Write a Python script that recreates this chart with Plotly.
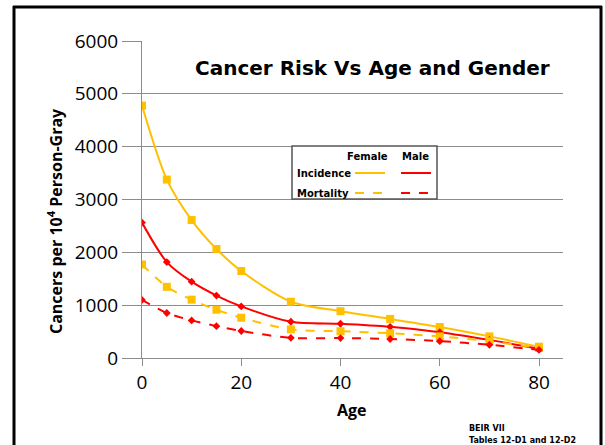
import plotly.graph_objects as go

ages = [0, 5, 10, 15, 20, 30, 40, 50, 60, 70, 80]
female_incidence = [4777, 3377, 2611, 2064, 1646, 1065, 886, 740, 586, 409, 214]
male_incidence = [2563, 1816, 1445, 1182, 977, 686, 648, 591, 489, 343, 174]
female_mortality = [1770, 1347, 1104, 914, 762, 542, 507, 469, 409, 317, 190]
male_mortality = [1099, 852, 712, 603, 511, 381, 377, 360, 319, 250, 153]

y_ticks = [0, 1000, 2000, 3000, 4000, 5000, 6000]
x_ticks = [0, 20, 40, 60, 80]

GOLD = "#FFC000"
RED = "#FF0000"
TXT = "DejaVu Sans"
NUM = "Open Sans"

# plot area in pixels
L, R, T, B = 142, 563, 41, 358
W, H = 605, 445


def px(p):
    return (p - L) / (R - L)


def py(p):
    return (B - p) / (B - T)


fig = go.Figure()

series = [
    (female_incidence, GOLD, "solid", "square", 8),
    (male_incidence, RED, "solid", "diamond", 6),
    (female_mortality, GOLD, "dash", "square", 8),
    (male_mortality, RED, "dash", "diamond", 6),
]
for vals, col, dash, sym, ms in series:
    fig.add_trace(go.Scatter(
        x=ages, y=vals, mode="lines+markers",
        line=dict(color=col, width=2, dash=dash, shape="spline", smoothing=0.8),
        marker=dict(color=col, symbol=sym, size=ms),
        showlegend=False, hoverinfo="skip",
    ))

shapes = []
# outer frame
shapes.append(dict(type="line", xref="paper", yref="paper", x0=px(14), x1=px(14), y0=py(6), y1=py(W),
                   line=dict(color="black", width=3)))
shapes.append(dict(type="line", xref="paper", yref="paper", x0=px(13), x1=px(602), y0=py(7), y1=py(7),
                   line=dict(color="black", width=3)))
shapes.append(dict(type="line", xref="paper", yref="paper", x0=px(601), x1=px(601), y0=py(6), y1=py(W),
                   line=dict(color="black", width=3)))
# legend box
shapes.append(dict(type="rect", xref="paper", yref="paper", x0=px(292), x1=px(437), y0=py(199), y1=py(146),
                   line=dict(color="#555555", width=1.5), fillcolor="white", layer="above"))
# legend line samples
for x0, x1, yy, col, dash in [
    (355, 385, 173, GOLD, "solid"), (401, 431, 173, RED, "solid"),
    (355, 385, 193, GOLD, "dash"), (401, 431, 193, RED, "dash"),
]:
    shapes.append(dict(type="line", xref="paper", yref="paper", x0=px(x0), x1=px(x1), y0=py(yy), y1=py(yy),
                       line=dict(color=col, width=2, dash=dash), layer="above"))

annotations = []


def ann(text, x, y, size, xanchor="center", font=TXT, bold=True, angle=0, color="black"):
    annotations.append(dict(
        text=("<b>%s</b>" % text) if bold else text,
        xref="paper", yref="paper", x=px(x), y=py(y), showarrow=False,
        xanchor=xanchor, yanchor="middle", textangle=angle,
        font=dict(family=font, size=size, color=color),
    ))


ann("Cancer Risk Vs Age and Gender", 372, 68, 20)
ann("Female", 367, 156, 10)
ann("Male", 415, 156, 10)
ann("Incidence", 295, 173, 10, xanchor="left")
ann("Mortality", 295, 193, 10, xanchor="left")
ann("BEIR VII", 467, 428, 8, xanchor="left")
ann("Tables 12-D1 and 12-D2", 467, 440, 8, xanchor="left")
ann("Age", 352, 410, 16, font=NUM)
ann("Cancers per 10<sup>4</sup> Person-Gray", 55, 221, 16, font=NUM, angle=-90)

fig.update_layout(
    width=W, height=H,
    margin=dict(l=L, r=W - R, t=T, b=H - B, pad=0),
    paper_bgcolor="white", plot_bgcolor="white",
    shapes=shapes, annotations=annotations,
    xaxis=dict(
        range=[0, 80 * (R - L) / (539 - L)], tickvals=x_ticks, ticktext=[str(v) for v in x_ticks],
        showgrid=False, zeroline=False, showline=True, linecolor="#8c8c8c", linewidth=1,
        ticks="outside", ticklen=7, tickcolor="#8c8c8c",
        tickfont=dict(family=NUM, size=19, color="black"),
    ),
    yaxis=dict(
        range=[0, 6000], tickvals=y_ticks, ticktext=[str(v) for v in y_ticks],
        showgrid=True, gridcolor="#8c8c8c", gridwidth=1, zeroline=False,
        showline=True, linecolor="#8c8c8c", linewidth=1,
        ticks="outside", ticklen=19, tickcolor="#8c8c8c",
        tickfont=dict(family=NUM, size=19, color="black"),
    ),
)

fig.write_html("out.html", config={"displayModeBar": False},
               post_script="document.body.style.margin='0';document.body.style.overflow='hidden';")
